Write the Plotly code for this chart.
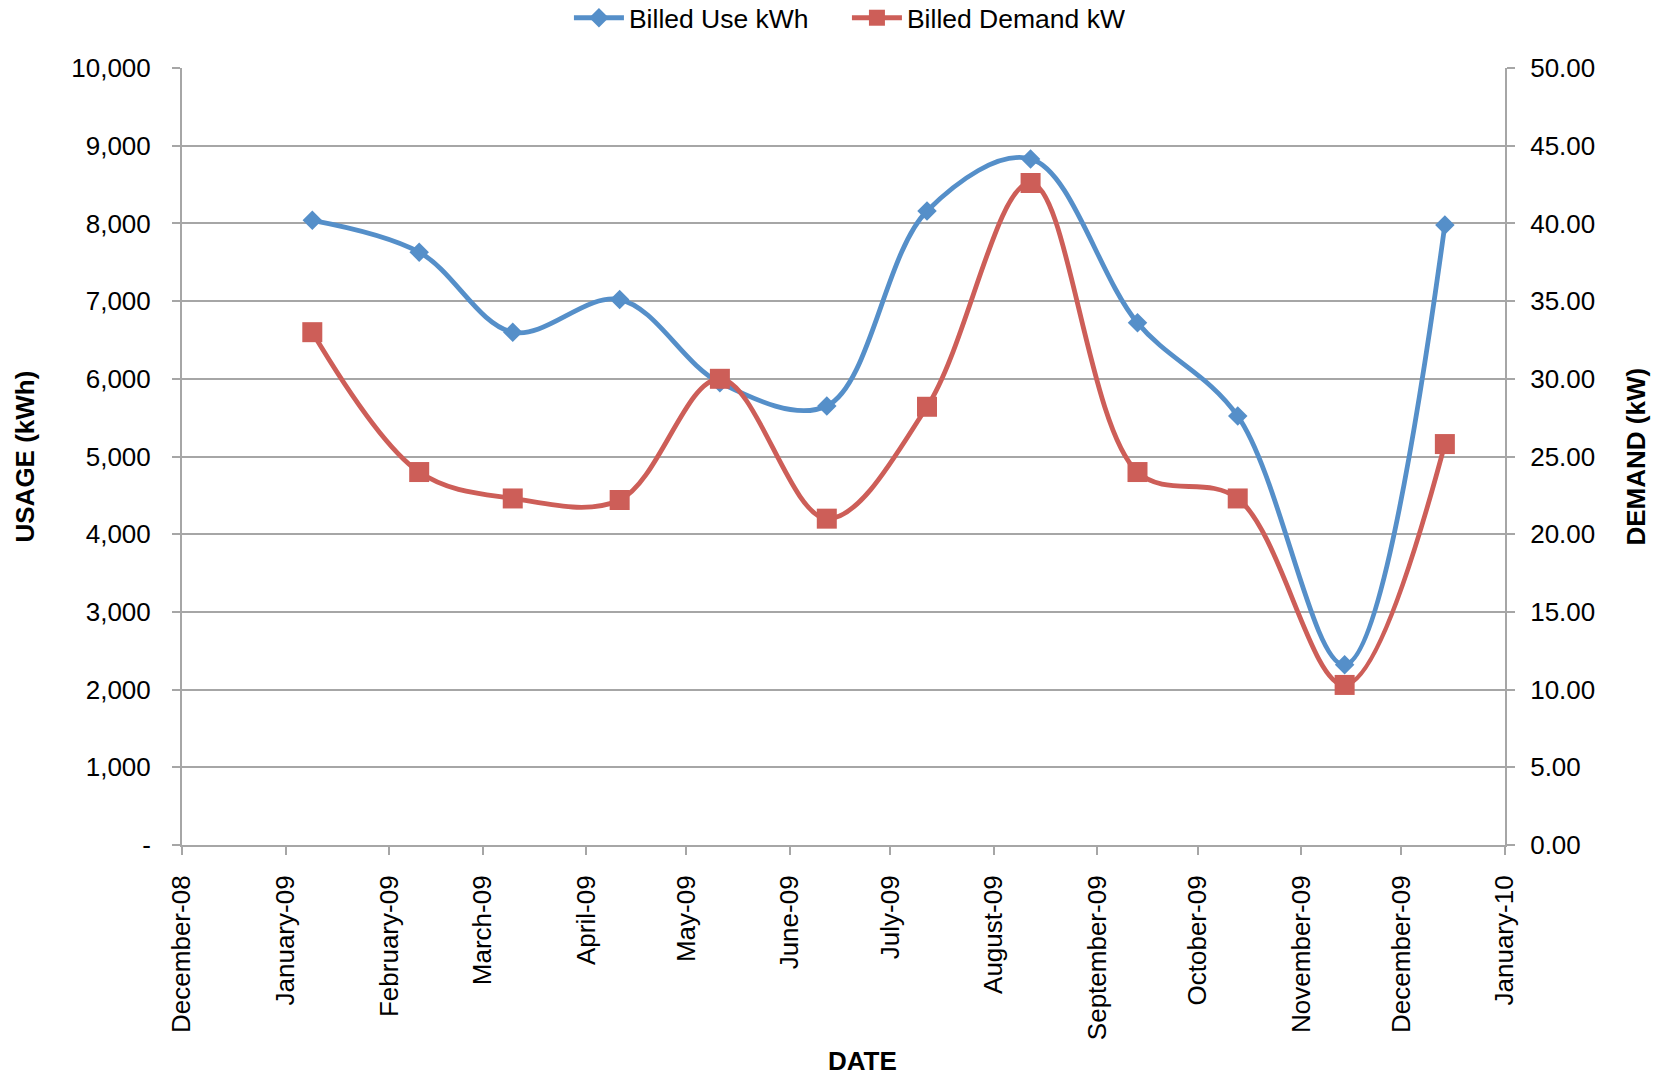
import plotly.graph_objects as go

# Monthly billing data
bill_dates = ["2009-01-09", "2009-02-10", "2009-03-10", "2009-04-11", "2009-05-11", "2009-06-12",
              "2009-07-12", "2009-08-12", "2009-09-13", "2009-10-13", "2009-11-14", "2009-12-14"]
billed_use_kwh = [8040, 7630, 6600, 7020, 5950, 5650, 8160, 8830, 6720, 5520, 2320, 7980]
billed_demand_kw = [33.0, 24.0, 22.3, 22.2, 30.0, 21.0, 28.2, 42.6, 24.0, 22.3, 10.3, 25.8]

usage_ticks = [0, 1000, 2000, 3000, 4000, 5000, 6000, 7000, 8000, 9000, 10000]
usage_tick_text = ["-", "1,000", "2,000", "3,000", "4,000", "5,000", "6,000", "7,000", "8,000", "9,000", "10,000"]

BLUE = "rgb(85,143,201)"
RED = "rgb(205,94,88)"
GRID = "#a6a6a6"
FONT = "Liberation Sans, Arial, sans-serif"

PLOT_W = 1323
PLOT_H = 777

fig = go.Figure()
fig.add_trace(go.Scatter(
    x=bill_dates, y=billed_use_kwh, name="Billed Use kWh", mode="lines+markers",
    line=dict(color=BLUE, width=4.8, shape="spline", smoothing=1.0),
    marker=dict(symbol="diamond", size=15, color=BLUE),
))
fig.add_trace(go.Scatter(
    x=bill_dates, y=billed_demand_kw, name="Billed Demand kW", mode="lines+markers", yaxis="y2",
    line=dict(color=RED, width=4.8, shape="spline", smoothing=1.0),
    marker=dict(symbol="square", size=20, color=RED),
))

fig.update_layout(
    width=1659, height=1086,
    margin=dict(l=182, r=154, t=68, b=241),
    paper_bgcolor="white", plot_bgcolor="white",
    font=dict(family=FONT, size=26, color="black"),
    showlegend=True,
    legend=dict(orientation="h", x=0.5026, xanchor="center", yref="container", y=1 - 18 / 1086,
                yanchor="middle", font=dict(size=26.5), itemwidth=50, traceorder="normal",
                entrywidth=213, bgcolor="rgba(0,0,0,0)"),
    xaxis=dict(
        type="date", range=["2008-12-01", "2010-01-01"],
        tick0="2008-12-01", dtick="M1", tickformat="%B-%y", tickangle=-90,
        showgrid=False, showline=True, linecolor=GRID, linewidth=2,
        ticks="outside", ticklen=8, tickcolor=GRID, tickwidth=2,
        ticklabelstandoff=10, zeroline=False,
    ),
    yaxis=dict(
        range=[0, 10000], tickvals=usage_ticks, ticktext=usage_tick_text,
        showgrid=True, gridcolor=GRID, gridwidth=2,
        showline=True, linecolor=GRID, linewidth=2,
        ticks="outside", ticklen=8, tickcolor=GRID, tickwidth=2,
        ticklabelstandoff=16, zeroline=False,
    ),
    yaxis2=dict(
        overlaying="y", side="right", range=[0, 50], dtick=5, tickformat=".2f",
        showgrid=False, showline=True, linecolor=GRID, linewidth=2,
        ticks="outside", ticklen=8, tickcolor=GRID, tickwidth=2,
        ticklabelstandoff=10, zeroline=False,
    ),
    annotations=[
        dict(text="<b>USAGE (kWh)</b>", xref="paper", yref="paper", x=-158 / PLOT_W, y=0.5,
             xanchor="center", yanchor="middle", textangle=-90, showarrow=False,
             font=dict(size=26, family=FONT)),
        dict(text="<b>DEMAND (kW)</b>", xref="paper", yref="paper", x=1 + 130 / PLOT_W, y=0.5,
             xanchor="center", yanchor="middle", textangle=-90, showarrow=False,
             font=dict(size=26, family=FONT)),
        dict(text="<b>DATE</b>", xref="paper", yref="paper", x=(862 - 182) / PLOT_W,
             y=-(1061 - 845) / PLOT_H,
             xanchor="center", yanchor="middle", showarrow=False,
             font=dict(size=26, family=FONT)),
    ],
)

fig.write_html("out.html")
